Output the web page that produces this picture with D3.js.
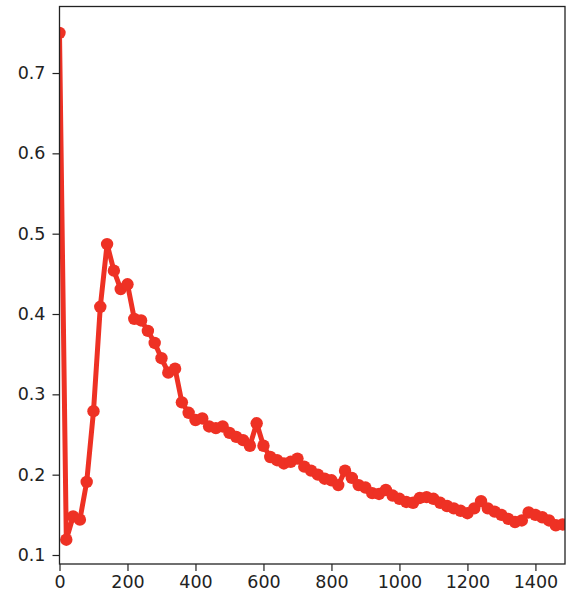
<!DOCTYPE html>
<html>
<head>
<meta charset="utf-8">
<script src="https://cdn.jsdelivr.net/npm/d3@7"></script>
<style>
  body { margin: 0; background: #fff; }
  svg { display: block; }
  .tick text { font-family: "DejaVu Sans", sans-serif; font-size: 17.5px; fill: #222; }
</style>
</head>
<body>
<svg id="chart" width="567" height="601"></svg>
<script>
// step values (x) and the measured series (y)
var steps = d3.range(0, 1500, 20);
var values = [
  0.750, 0.119, 0.148, 0.144, 0.191, 0.279, 0.409, 0.487, 0.454, 0.431,
  0.437, 0.394, 0.392, 0.379, 0.364, 0.345, 0.327, 0.332, 0.290, 0.277,
  0.268, 0.270, 0.260, 0.258, 0.260, 0.252, 0.247, 0.243, 0.236, 0.264,
  0.236, 0.222, 0.218, 0.214, 0.216, 0.220, 0.210, 0.205, 0.200, 0.195,
  0.193, 0.187, 0.205, 0.196, 0.187, 0.184, 0.177, 0.176, 0.181, 0.174,
  0.170, 0.166, 0.165, 0.171, 0.172, 0.170, 0.165, 0.161, 0.158, 0.155,
  0.152, 0.158, 0.167, 0.158, 0.154, 0.150, 0.145, 0.141, 0.143, 0.153,
  0.150, 0.147, 0.143, 0.137, 0.138
];
var xTicks = [0, 200, 400, 600, 800, 1000, 1200, 1400];
var yTicks = [0.1, 0.2, 0.3, 0.4, 0.5, 0.6, 0.7];

var data = steps.map(function(s, i) { return {x: s, y: values[i]}; });

//plot box in pixels
var box = {left: 59.5, right: 565, top: 6.5, bottom: 564};
var red = "#ee3124";

var svg = d3.select("#chart");

var x = d3.scaleLinear().domain([0, 1487]).range([box.left, box.right]);
var y = d3.scaleLinear().domain([0.0888, 0.7828]).range([box.bottom, box.top]);

svg.append("clipPath").attr("id", "plotclip")
  .append("rect")
    .attr("x", box.left).attr("y", box.top)
    .attr("width", box.right - box.left).attr("height", box.bottom - box.top);

var plot = svg.append("g").attr("clip-path", "url(#plotclip)");

plot.append("path")
  .datum(data)
  .attr("fill", "none")
  .attr("stroke", red)
  .attr("stroke-width", 5)
  .attr("stroke-linejoin", "round")
  .attr("d", d3.line().x(function(d) { return x(d.x); }).y(function(d) { return y(d.y); }));

plot.selectAll("circle")
  .data(data)
  .enter()
  .append("circle")
    .attr("cx", function(d) { return x(d.x); })
    .attr("cy", function(d) { return y(d.y); })
    .attr("r", 6.2)
    .attr("fill", red);

//axes
var xAxis = svg.append("g")
  .attr("transform", "translate(0," + box.bottom + ")")
  .call(d3.axisBottom(x).tickValues(xTicks).tickFormat(d3.format("d")).tickSize(7).tickPadding(5));

var yAxis = svg.append("g")
  .attr("transform", "translate(" + box.left + ",0)")
  .call(d3.axisLeft(y).tickValues(yTicks).tickFormat(d3.format(".1f")).tickSize(7).tickPadding(7));

[xAxis, yAxis].forEach(function(a) {
  a.select(".domain").remove();
  a.selectAll(".tick line").attr("stroke", "#222").attr("stroke-width", 1.2);
});

//spines on top of the data
svg.append("rect")
  .attr("x", box.left).attr("y", box.top)
  .attr("width", box.right - box.left).attr("height", box.bottom - box.top)
  .attr("fill", "none")
  .attr("stroke", "#222")
  .attr("stroke-width", 1.3);
</script>
</body>
</html>
